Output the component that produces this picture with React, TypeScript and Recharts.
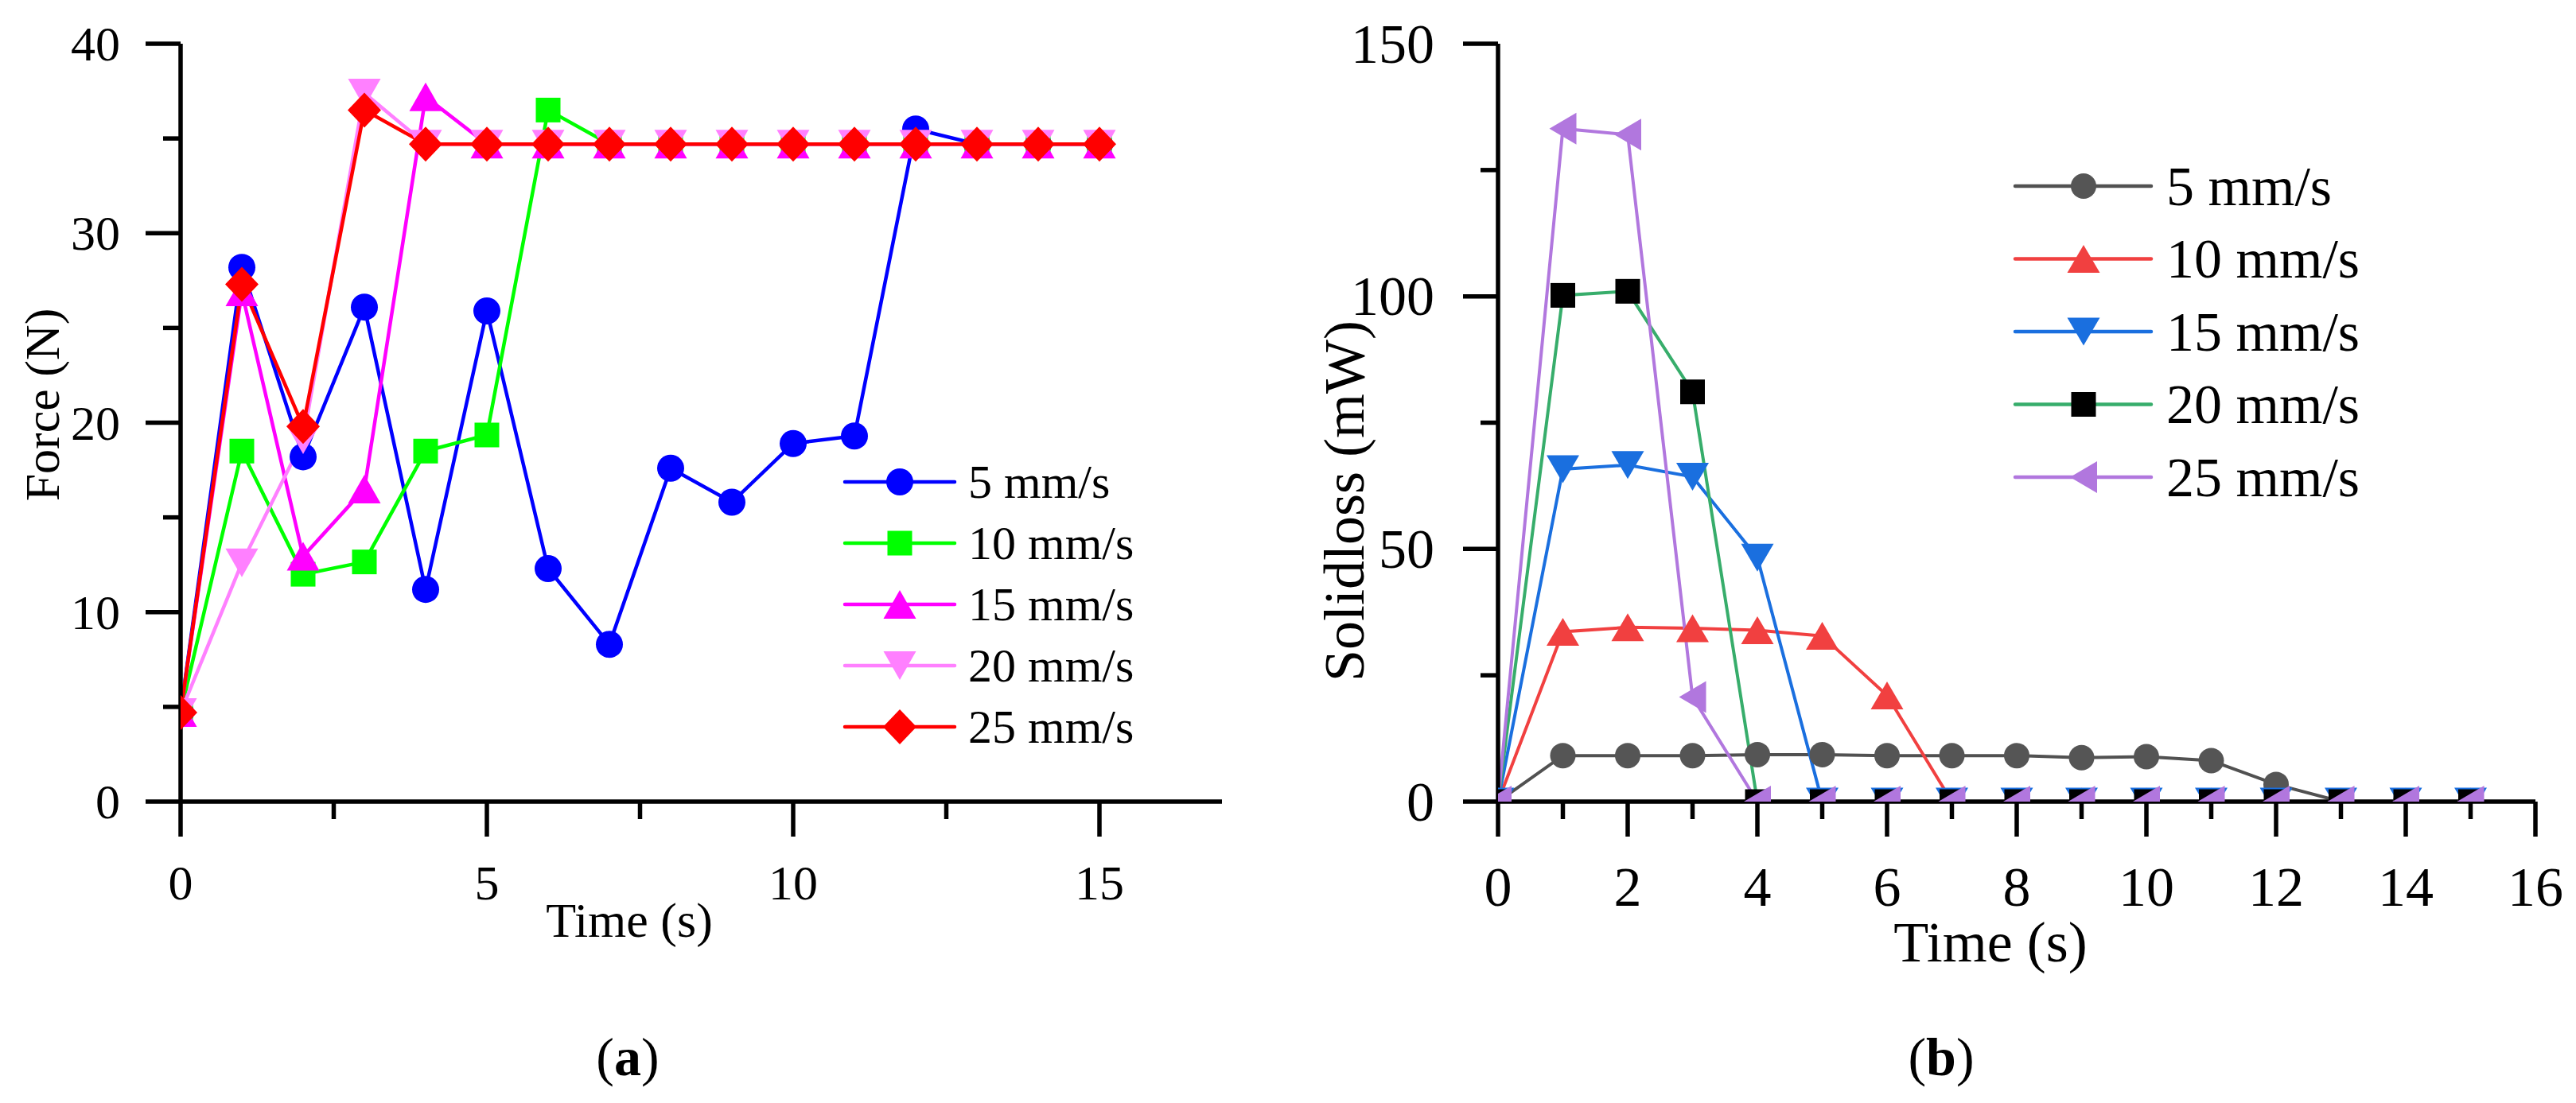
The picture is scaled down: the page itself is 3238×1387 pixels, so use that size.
import React from "react";
import { LineChart, Line, XAxis, YAxis, Legend } from "recharts";

const FONT = "'Liberation Serif', 'Times New Roman', serif";

// (a) Force vs time
const forceTime = [0, 1, 2, 3, 4, 5, 6, 7, 8, 9, 10, 11, 12, 13, 14, 15];
const force5 = [4.7, 28.2, 18.2, 26.1, 11.2, 25.9, 12.3, 8.3, 17.6, 15.8, 18.9, 19.3, 35.5, 34.7, 34.7, 34.7];
const force10 = [4.7, 18.5, 12.0, 12.65, 18.5, 19.35, 36.5, 34.7, 34.7, 34.7, 34.7, 34.7, 34.7, 34.7, 34.7, 34.7];
const force15 = [4.7, 26.9, 12.95, 16.5, 37.2, 34.7, 34.7, 34.7, 34.7, 34.7, 34.7, 34.7, 34.7, 34.7, 34.7, 34.7];
const force20 = [4.7, 12.6, 19.1, 37.4, 34.7, 34.7, 34.7, 34.7, 34.7, 34.7, 34.7, 34.7, 34.7, 34.7, 34.7, 34.7];
const force25 = [4.7, 27.3, 19.8, 36.5, 34.7, 34.7, 34.7, 34.7, 34.7, 34.7, 34.7, 34.7, 34.7, 34.7, 34.7, 34.7];

const forceXTicks = [0, 2.5, 5, 7.5, 10, 12.5, 15];
const forceXLabels = [0, 5, 10, 15];
const forceYTicks = [0, 5, 10, 15, 20, 25, 30, 35, 40];
const forceYLabels = [0, 10, 20, 30, 40];

// (b) Solidloss vs time
const lossTime = [0, 1, 2, 3, 4, 5, 6, 7, 8, 9, 10, 11, 12, 13, 14, 15];
const loss5 = [0, 9.1, 9.1, 9.1, 9.3, 9.3, 9.1, 9.1, 9.1, 8.7, 8.9, 8.1, 3.4, 0, 0, 0];
const loss10 = [0, 33.6, 34.5, 34.3, 33.9, 32.8, 21.0, 0, 0, 0, 0, 0, 0, 0, 0, 0];
const loss15 = [0, 65.8, 66.6, 64.3, 48.3, 0, 0, 0, 0, 0, 0, 0, 0, 0, 0, 0];
const loss20 = [0, 100.2, 101.0, 81.1, 0, 0, 0, 0, 0, 0, 0, 0, 0, 0, 0, 0];
const loss25 = [0, 133.2, 132.0, 20.7, 0, 0, 0, 0, 0, 0, 0, 0, 0, 0, 0, 0];

const lossXTicks = [0, 1, 2, 3, 4, 5, 6, 7, 8, 9, 10, 11, 12, 13, 14, 15, 16];
const lossXLabels = [0, 2, 4, 6, 8, 10, 12, 14, 16];
const lossYTicks = [0, 25, 50, 75, 100, 125, 150];
const lossYLabels = [0, 50, 100, 150];

const forceData = forceTime.map((t, i) => ({
  t,
  s5: force5[i],
  s10: force10[i],
  s15: force15[i],
  s20: force20[i],
  s25: force25[i],
}));

const lossData = lossTime.map((t, i) => ({
  t,
  s5: loss5[i],
  s10: loss10[i],
  s15: loss15[i],
  s20: loss20[i],
  s25: loss25[i],
}));

type Shape = "circle" | "square" | "triUp" | "triDown" | "triLeft" | "diamond";

type Series = {
  key: string;
  name: string;
  color: string;
  marker: string;
  shape: Shape;
  w: number;
  h: number;
};

const forceSeries: Series[] = [
  { key: "s5", name: "5 mm/s", color: "#0000FF", marker: "#0000FF", shape: "circle", w: 34, h: 34 },
  { key: "s10", name: "10 mm/s", color: "#00FF00", marker: "#00FF00", shape: "square", w: 31, h: 31 },
  { key: "s15", name: "15 mm/s", color: "#FF00FF", marker: "#FF00FF", shape: "triUp", w: 41, h: 36 },
  { key: "s20", name: "20 mm/s", color: "#FF80FF", marker: "#FF80FF", shape: "triDown", w: 41, h: 36 },
  { key: "s25", name: "25 mm/s", color: "#FF0000", marker: "#FF0000", shape: "diamond", w: 42, h: 44 },
];

const lossSeries: Series[] = [
  { key: "s5", name: "5 mm/s", color: "#515151", marker: "#555555", shape: "circle", w: 32, h: 32 },
  { key: "s10", name: "10 mm/s", color: "#F14040", marker: "#F14040", shape: "triUp", w: 41, h: 35 },
  { key: "s15", name: "15 mm/s", color: "#1A6FDF", marker: "#1A6FDF", shape: "triDown", w: 41, h: 35 },
  { key: "s20", name: "20 mm/s", color: "#37AD6B", marker: "#000000", shape: "square", w: 31, h: 31 },
  { key: "s25", name: "25 mm/s", color: "#B177DE", marker: "#B177DE", shape: "triLeft", w: 34, h: 40 },
];

const Marker = ({ shape, cx, cy, w, h, fill }: any) => {
  const hw = w / 2;
  const hh = h / 2;
  switch (shape) {
    case "circle":
      return <circle cx={cx} cy={cy} r={hw} fill={fill} />;
    case "square":
      return <rect x={cx - hw} y={cy - hh} width={w} height={h} fill={fill} />;
    case "triUp":
      return <polygon points={`${cx},${cy - hh} ${cx + hw},${cy + hh} ${cx - hw},${cy + hh}`} fill={fill} />;
    case "triDown":
      return <polygon points={`${cx},${cy + hh} ${cx + hw},${cy - hh} ${cx - hw},${cy - hh}`} fill={fill} />;
    case "triLeft":
      return <polygon points={`${cx - hw},${cy} ${cx + hw},${cy - hh} ${cx + hw},${cy + hh}`} fill={fill} />;
    default:
      return <polygon points={`${cx},${cy - hh} ${cx + hw},${cy} ${cx},${cy + hh} ${cx - hw},${cy}`} fill={fill} />;
  }
};

const AXIS_W = 5.5;

// tick with major/minor lengths, label only on major ticks
const XTick = ({ x, y, payload, labels, major, minor, gap, fontSize }: any) => {
  const v = payload.value;
  const isMajor = labels.includes(v);
  const len = isMajor ? major : minor;
  return (
    <g>
      <line x1={x} y1={y} x2={x} y2={y + len} stroke="#000" strokeWidth={AXIS_W} />
      {isMajor && (
        <text x={x} y={y + gap} dy="0.34em" textAnchor="middle" fontFamily={FONT} fontSize={fontSize} fill="#000">
          {v}
        </text>
      )}
    </g>
  );
};

const YTick = ({ x, y, payload, labels, major, minor, gap, fontSize }: any) => {
  const v = payload.value;
  const isMajor = labels.includes(v);
  const len = isMajor ? major : minor;
  return (
    <g>
      <line x1={x - len} y1={y} x2={x} y2={y} stroke="#000" strokeWidth={AXIS_W} />
      {isMajor && (
        <text x={x - gap} y={y} dy="0.34em" textAnchor="end" fontFamily={FONT} fontSize={fontSize} fill="#000">
          {v}
        </text>
      )}
    </g>
  );
};

const XTitle = ({ text, cx, cy, fontSize }: any) => (
  <text x={cx} y={cy} dy="0.34em" textAnchor="middle" fontFamily={FONT} fontSize={fontSize} fill="#000">
    {text}
  </text>
);

const YTitle = ({ text, cx, cy, fontSize }: any) => (
  <text
    x={cx}
    y={cy}
    dy="0.34em"
    textAnchor="middle"
    transform={`rotate(-90, ${cx}, ${cy})`}
    fontFamily={FONT}
    fontSize={fontSize}
    fill="#000"
  >
    {text}
  </text>
);

const LegendBox = ({ series, width, height, rowY, rowGap, x1, x2, xm, xt, fontSize }: any) => (
  <svg width={width} height={height} style={{ display: "block", overflow: "visible" }}>
    {series.map((s: Series, i: number) => {
      const y = rowY + i * rowGap;
      return (
        <g key={s.key}>
          <line x1={x1} y1={y} x2={x2} y2={y} stroke={s.color} strokeWidth={4.5} strokeLinecap="round" />
          <Marker shape={s.shape} cx={xm} cy={y} w={s.w} h={s.h} fill={s.marker} />
          <text x={xt} y={y} dy="0.34em" fontFamily={FONT} fontSize={fontSize} fill="#000">
            {s.name}
          </text>
        </g>
      );
    })}
  </svg>
);

const renderLines = (series: Series[], width: number) =>
  series.map((s) => (
    <Line
      key={s.key}
      type="linear"
      dataKey={s.key}
      name={s.name}
      stroke={s.color}
      strokeWidth={width}
      isAnimationActive={false}
      activeDot={false}
      dot={(p: any) => (
        <Marker key={`${s.key}-${p.index}`} shape={s.shape} cx={p.cx} cy={p.cy} w={s.w} h={s.h} fill={s.marker} />
      )}
    />
  ));

const ForceChart = () => (
  <LineChart width={1620} height={1387} data={forceData} margin={{ top: 55, right: 84, bottom: 0, left: 0 }}>
    <XAxis
      type="number"
      dataKey="t"
      domain={[0, 17]}
      ticks={forceXTicks}
      interval={0}
      allowDataOverflow
      height={379}
      tickSize={0}
      tickMargin={0}
      axisLine={{ stroke: "#000", strokeWidth: AXIS_W }}
      tickLine={false}
      tick={(p: any) => <XTick {...p} labels={forceXLabels} major={44} minor={22} gap={102} fontSize={62} />}
      label={<XTitle text="Time (s)" cx={791} cy={1157} fontSize={62} />}
    />
    <YAxis
      type="number"
      domain={[0, 40]}
      ticks={forceYTicks}
      interval={0}
      allowDataOverflow
      width={227}
      tickSize={0}
      tickMargin={0}
      axisLine={{ stroke: "#000", strokeWidth: AXIS_W }}
      tickLine={false}
      tick={(p: any) => <YTick {...p} labels={forceYLabels} major={44} minor={22} gap={76} fontSize={62} />}
      label={<YTitle text="Force (N)" cx={53} cy={509} fontSize={62} />}
    />
    <Legend
      layout="vertical"
      align="center"
      verticalAlign="middle"
      wrapperStyle={{ left: 1040, top: 560, width: 420, height: 420 }}
      content={() => (
        <LegendBox
          series={forceSeries}
          width={420}
          height={420}
          rowY={46}
          rowGap={77}
          x1={22}
          x2={160}
          xm={91}
          xt={177}
          fontSize={60}
        />
      )}
    />
    {renderLines(forceSeries, 4.5)}
  </LineChart>
);

const LossChart = () => (
  <LineChart width={1618} height={1387} data={lossData} margin={{ top: 55, right: 51, bottom: 0, left: 0 }}>
    <XAxis
      type="number"
      dataKey="t"
      domain={[0, 16]}
      ticks={lossXTicks}
      interval={0}
      allowDataOverflow
      height={379}
      tickSize={0}
      tickMargin={0}
      axisLine={{ stroke: "#000", strokeWidth: AXIS_W }}
      tickLine={false}
      tick={(p: any) => <XTick {...p} labels={lossXLabels} major={44} minor={22} gap={107} fontSize={70} />}
      label={<XTitle text="Time (s)" cx={882} cy={1185} fontSize={72} />}
    />
    <YAxis
      type="number"
      domain={[0, 150]}
      ticks={lossYTicks}
      interval={0}
      allowDataOverflow
      width={263}
      tickSize={0}
      tickMargin={0}
      axisLine={{ stroke: "#000", strokeWidth: AXIS_W }}
      tickLine={false}
      tick={(p: any) => <YTick {...p} labels={lossYLabels} major={44} minor={22} gap={80} fontSize={70} />}
      label={<YTitle text="Solidloss (mW)" cx={70} cy={630} fontSize={72} />}
    />
    <Legend
      layout="vertical"
      align="center"
      verticalAlign="middle"
      wrapperStyle={{ left: 880, top: 180, width: 520, height: 480 }}
      content={() => (
        <LegendBox
          series={lossSeries}
          width={520}
          height={480}
          rowY={54}
          rowGap={91.5}
          x1={33}
          x2={204}
          xm={119}
          xt={223}
          fontSize={70}
        />
      )}
    />
    {renderLines(lossSeries, 4)}
  </LineChart>
);

const PanelTag = ({ letter, x }: { letter: string; x: number }) => (
  <div
    style={{
      position: "absolute",
      left: x,
      top: 1329,
      transform: "translate(-50%, -50%)",
      fontFamily: FONT,
      fontSize: 68,
      lineHeight: 1,
      color: "#000",
      whiteSpace: "nowrap",
    }}
  >
    (<b>{letter}</b>)
  </div>
);

export default function App() {
  return (
    <div
      style={{
        position: "absolute",
        left: 0,
        top: 0,
        width: 3238,
        height: 1387,
        background: "#fff",
        overflow: "hidden",
      }}
    >
      <div style={{ position: "absolute", left: 0, top: 0 }}>
        <ForceChart />
      </div>
      <div style={{ position: "absolute", left: 1620, top: 0 }}>
        <LossChart />
      </div>
      <PanelTag letter="a" x={789} />
      <PanelTag letter="b" x={2440} />
    </div>
  );
}
